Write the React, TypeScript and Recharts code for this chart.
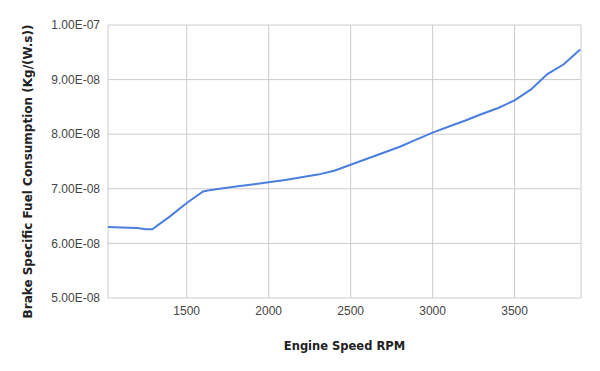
import { LineChart, Line, XAxis, YAxis, CartesianGrid } from 'recharts';

const rpm = [
  1020, 1100, 1200, 1250, 1290, 1400, 1500, 1600, 1650, 1700, 1800, 1900, 2000, 2100, 2200, 2300,
  2400, 2500, 2600, 2700, 2800, 2900, 3000, 3100, 3200, 3300, 3400, 3500, 3600, 3700, 3800, 3900,
];
const bsfc = [
  6.3e-8, 6.29e-8, 6.28e-8, 6.26e-8, 6.26e-8, 6.5e-8, 6.74e-8, 6.95e-8, 6.98e-8, 7.0e-8, 7.04e-8,
  7.08e-8, 7.12e-8, 7.16e-8, 7.21e-8, 7.26e-8, 7.33e-8, 7.44e-8, 7.55e-8, 7.66e-8, 7.77e-8, 7.9e-8,
  8.03e-8, 8.14e-8, 8.25e-8, 8.37e-8, 8.48e-8, 8.62e-8, 8.82e-8, 9.1e-8, 9.28e-8, 9.55e-8,
];
const xTicks = [1500, 2000, 2500, 3000, 3500];
const yTicks = [5e-8, 6e-8, 7e-8, 8e-8, 9e-8, 1e-7];

const data = rpm.map((r, i) => ({ rpm: r, bsfc: bsfc[i] }));

const FONT = '"Liberation Sans", Arial, sans-serif';
const TITLE_FONT = '"DejaVu Sans", Verdana, sans-serif';

function sci(v: number) {
  const [m, e] = v.toExponential(2).split('e');
  const neg = e.startsWith('-');
  const digits = e.replace(/[-+]/, '').padStart(2, '0');
  return `${m}E${neg ? '-' : ''}${digits}`;
}

export default function App() {
  return (
    <div style={{ position: 'absolute', left: 0, top: 0, background: '#fff' }}>
      <LineChart width={600} height={371} data={data} margin={{ top: 25, right: 19, bottom: 0, left: 0 }}>
        <CartesianGrid stroke="#cccccc" />
        <XAxis
          dataKey="rpm"
          type="number"
          domain={[1020, 3905]}
          ticks={xTicks}
          height={73}
          axisLine={false}
          tickLine={false}
          tick={{ fill: '#444', fontSize: 12, fontFamily: FONT }}
          label={{
            value: 'Engine Speed RPM',
            position: 'insideBottom',
            offset: 21,
            style: { fill: '#222', fontSize: 11.5, fontWeight: 'bold', fontFamily: TITLE_FONT },
          }}
        />
        <YAxis
          dataKey="bsfc"
          type="number"
          domain={[5e-8, 1e-7]}
          ticks={yTicks}
          width={108}
          axisLine={false}
          tickLine={false}
          tickFormatter={sci}
          tick={{ fill: '#444', fontSize: 12, fontFamily: FONT }}
          label={{
            value: 'Brake Specific Fuel Consumption (Kg/(W.s))',
            angle: -90,
            position: 'insideLeft',
            offset: 28,
            dy: 10,
            style: { textAnchor: 'middle', fill: '#222', fontSize: 12, fontWeight: 'bold', fontFamily: TITLE_FONT },
          }}
        />
        <Line
          type="linear"
          dataKey="bsfc"
          stroke="#4a7fe0"
          strokeWidth={2}
          dot={false}
          isAnimationActive={false}
        />
      </LineChart>
    </div>
  );
}
